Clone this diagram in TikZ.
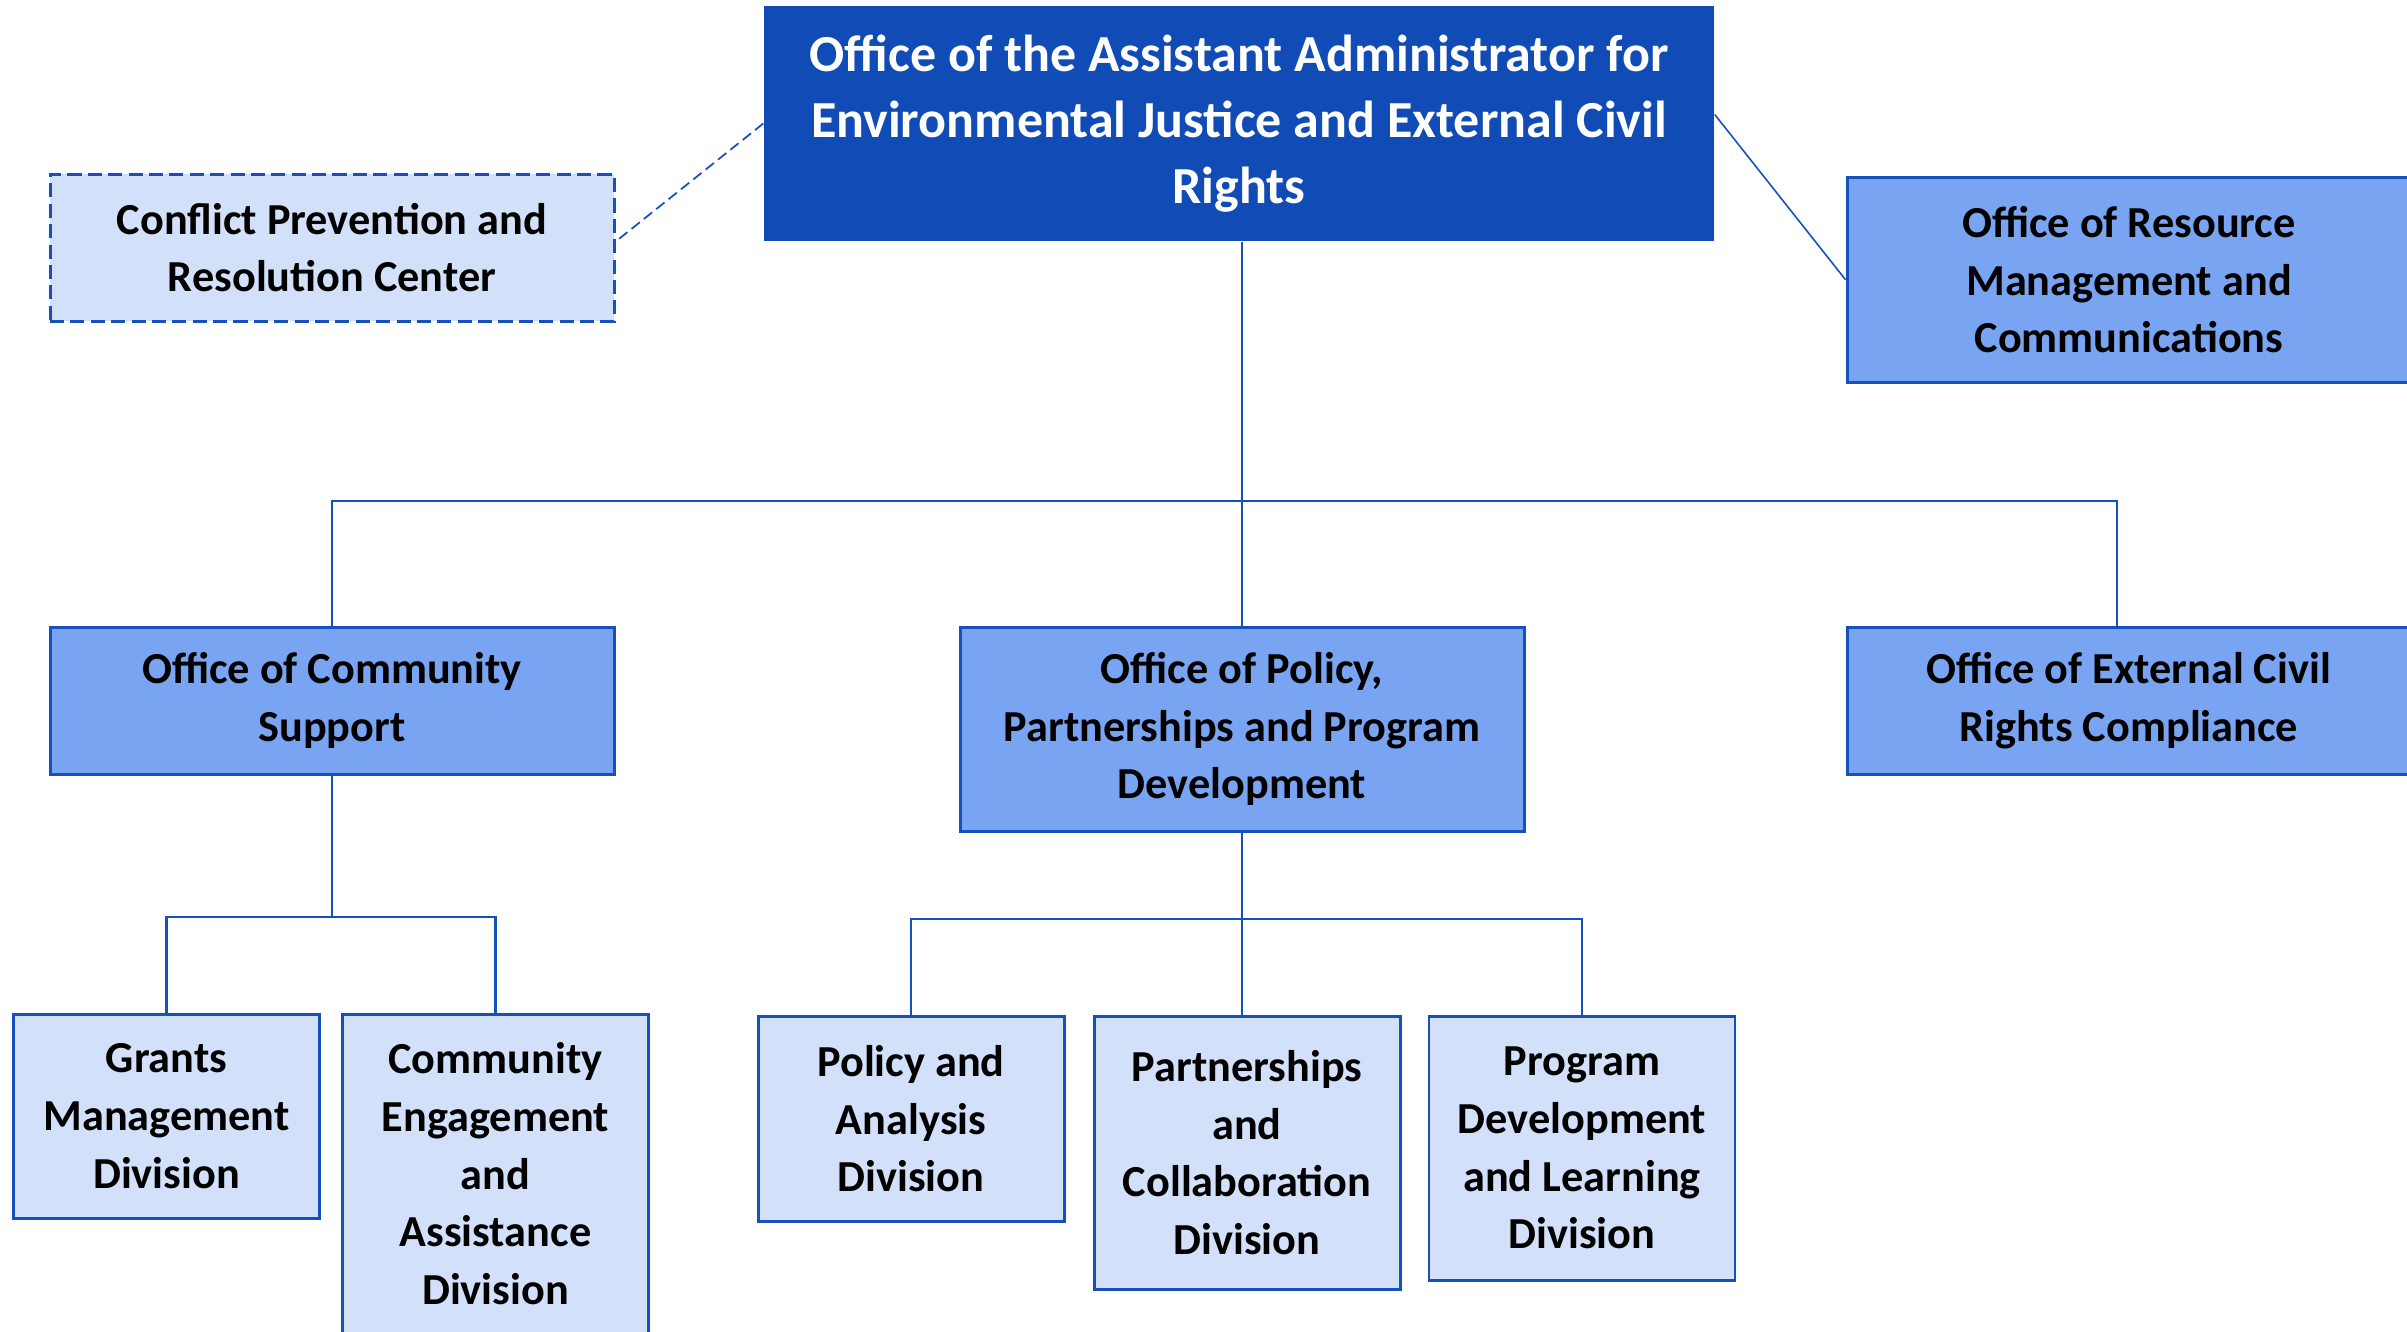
\documentclass[tikz,border=0pt]{standalone}
\usepackage{fontspec}
\setmainfont{Carlito}
\usepackage{tikz}
\usetikzlibrary{positioning}
\definecolor{ejdark}{RGB}{17,75,181}
\definecolor{ejmid}{RGB}{120,164,242}
\definecolor{ejlight}{RGB}{210,224,249}
\definecolor{ejline}{RGB}{22,80,190}
\tikzstyle{topbox} = [rectangle, fill=ejdark, text=white, font=\bfseries\fontsize{14.8}{18.8}\selectfont, align=center, minimum width=9.5cm, minimum height=2.35cm, inner sep=0pt]
\tikzstyle{officebox} = [rectangle, draw=ejline, line width=0.85pt, fill=ejmid, font=\bfseries\fontsize{12.6}{16.4}\selectfont, align=center, minimum width=5.64cm, inner sep=0pt]
\tikzstyle{divbox} = [officebox, fill=ejlight, minimum width=3.06cm]
\tikzstyle{line} = [draw=ejline, line width=0.6pt]
\tikzstyle{dashline} = [draw=ejline, line width=0.5pt, dash pattern=on 3pt off 1.5pt]

\begin{document}
\begin{tikzpicture}[node distance=0.4cm]
    \useasboundingbox (0,0) rectangle (24.07,-13.32);

    \node (aa) [topbox] at (12.39,-1.235) {Office of the Assistant Administrator for\\Environmental Justice and External Civil\\Rights};
    \node (opp) [officebox, minimum height=2.04cm, below=3.84cm of aa, xshift=0.03cm] {Office of Policy,\\Partnerships and Program\\Development};
    \node (ocs) [officebox, minimum height=1.47cm, left=3.43cm of opp.north west, anchor=north east] {Office of Community\\Support};
    \node (oecr) [officebox, minimum height=1.47cm, right=3.20cm of opp.north east, anchor=north west] {Office of External Civil\\Rights Compliance};
    \node (cprc) [officebox, fill=ejlight, dash pattern=on 4pt off 1.8pt, minimum height=1.47cm, above=3.03cm of ocs] {Conflict Prevention and\\Resolution Center};
    \node (ormc) [officebox, minimum height=2.05cm, above=2.42cm of oecr] {Office of Resource\\Management and\\Communications};

    \node (pcd) [divbox, minimum height=2.73cm, below=1.82cm of opp, xshift=0.05cm] {Partnerships\\and\\Collaboration\\Division};
    \node (pad) [divbox, minimum height=2.05cm, left=0.27cm of pcd.north west, anchor=north east] {Policy and\\Analysis\\Division};
    \node (pdl) [divbox, minimum height=2.64cm, right=0.26cm of pcd.north east, anchor=north west] {Program\\Development\\and Learning\\Division};
    \node (gmd) [divbox, minimum height=2.04cm, below left=2.37cm and 0.11cm of ocs.south] {Grants\\Management\\Division};
    \node (cead) [divbox, minimum height=3.19cm, below right=2.37cm and 0.09cm of ocs.south] {Community\\Engagement\\and\\Assistance\\Division};

    \coordinate [below=2.59cm of aa.south] (hub);
    \coordinate [below=1.41cm of ocs.south] (ocshub);
    \coordinate [below=0.86cm of opp.south] (opphub);

    \path [line] (aa.south -| opp.north) -- (opp.north);
    \path [line] (ocs.north) |- (hub) -| ([xshift=-0.12cm]oecr.north);
    \path [line] (ocs.south) -- (ocshub);
    \path [line] (gmd.north) |- (ocshub) -| (cead.north);
    \path [line] (opp.south) -- (opphub);
    \path [line] (pad.north) |- (opphub) -| (pdl.north);
    \path [line] (opphub) -- (pcd.north -| opphub);
    \path [dashline] (aa.west) -- ([yshift=0.06cm]cprc.east);
    \path [line, line width=0.45pt] ([yshift=0.09cm]aa.east) -- (ormc.west);

\end{tikzpicture}
\end{document}
